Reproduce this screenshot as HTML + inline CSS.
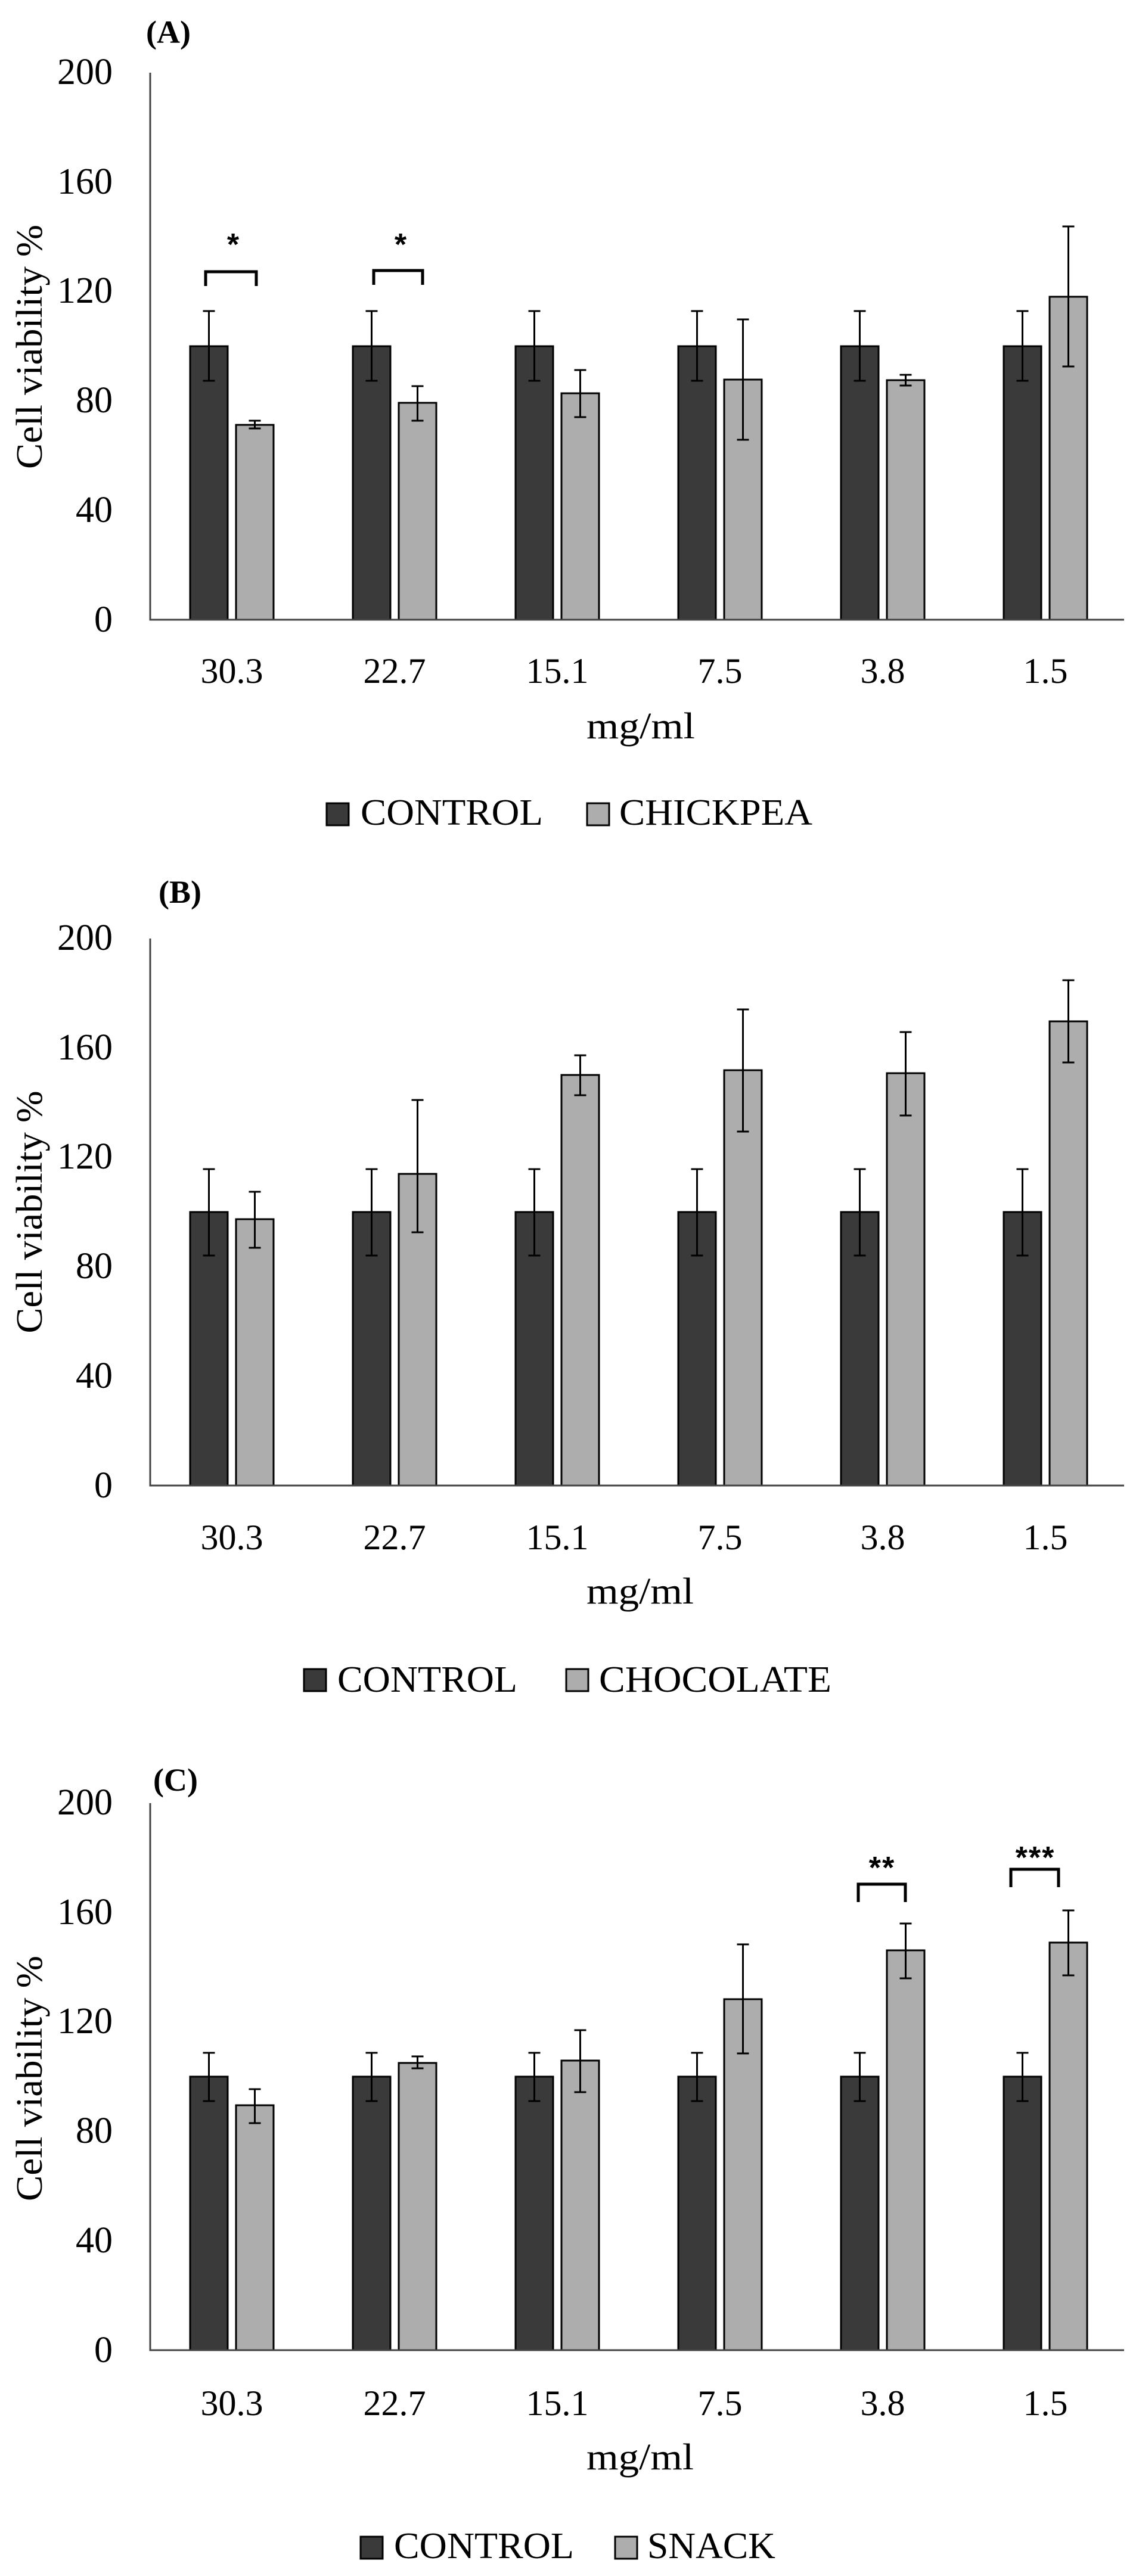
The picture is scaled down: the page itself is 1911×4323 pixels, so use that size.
<!DOCTYPE html>
<html><head><meta charset="utf-8"><style>
html,body{margin:0;padding:0;background:#fff}
svg{display:block}
text{font-family:"Liberation Serif",serif;fill:#000}
.t{font-size:62px}
.lab{font-size:60px;text-anchor:middle}
.yt{font-size:62px;text-anchor:end}
.c{fill:#3a3a3a;stroke:#000;stroke-width:3}
.g{fill:#adadad;stroke:#000;stroke-width:3}
.e{stroke:#000;stroke-width:3;fill:none}
.ax{stroke:#444;stroke-width:3;fill:none}
.br{stroke:#000;stroke-width:5;fill:none}
.st{font-family:"Liberation Sans",sans-serif;font-weight:bold;font-size:52px;text-anchor:middle}
.ti{font-weight:bold;font-size:54px}
</style></head><body>
<svg width="1911" height="4323" viewBox="0 0 1911 4323" xmlns="http://www.w3.org/2000/svg">
<rect width="1911" height="4323" fill="#fff"/>

<!-- ===== Chart A ===== -->
<text class="ti" x="245" y="72">(A)</text>
<g class="yt">
<text x="189" y="141">200</text><text x="189" y="325">160</text><text x="189" y="508">120</text>
<text x="189" y="692">80</text><text x="189" y="876">40</text><text x="189" y="1060">0</text>
</g>
<text class="t" transform="translate(70,582) rotate(-90)" text-anchor="middle" textLength="410" lengthAdjust="spacingAndGlyphs">Cell viability %</text>
<!-- bars A -->
<g>
<rect class="c" x="319" y="581" width="63" height="459"/><rect class="g" x="396" y="713" width="63" height="327"/>
<rect class="c" x="592" y="581" width="63" height="459"/><rect class="g" x="669" y="676" width="63" height="364"/>
<rect class="c" x="865" y="581" width="63" height="459"/><rect class="g" x="942" y="660" width="63" height="380"/>
<rect class="c" x="1138" y="581" width="63" height="459"/><rect class="g" x="1215" y="637" width="63" height="403"/>
<rect class="c" x="1411" y="581" width="63" height="459"/><rect class="g" x="1488" y="638" width="63" height="402"/>
<rect class="c" x="1684" y="581" width="63" height="459"/><rect class="g" x="1761" y="498" width="63" height="542"/>
</g>
<path class="e" d="M350.5 522V639M340.5 522h20M340.5 639h20
M427.5 706V719M417.5 706h20M417.5 719h20
M623.5 522V639M613.5 522h20M613.5 639h20
M700.5 648V706M690.5 648h20M690.5 706h20
M896.5 522V639M886.5 522h20M886.5 639h20
M973.5 621V700M963.5 621h20M963.5 700h20
M1169.5 522V639M1159.5 522h20M1159.5 639h20
M1246.5 536V738M1236.5 536h20M1236.5 738h20
M1442.5 522V639M1432.5 522h20M1432.5 639h20
M1519.5 629V647M1509.5 629h20M1509.5 647h20
M1715.5 522V639M1705.5 522h20M1705.5 639h20
M1792.5 380V615M1782.5 380h20M1782.5 615h20"/>
<path class="ax" d="M252 122V1040H1886"/>
<path class="br" d="M345 480V456H430V480M627 478V454H709V478"/>
<text class="st" x="391" y="428">*</text><text class="st" x="672" y="428">*</text>
<g class="lab">
<text x="389" y="1146">30.3</text><text x="662" y="1146">22.7</text><text x="935" y="1146">15.1</text>
<text x="1208" y="1146">7.5</text><text x="1481" y="1146">3.8</text><text x="1754" y="1146">1.5</text>
</g>
<text class="t" x="984" y="1239" textLength="182" lengthAdjust="spacingAndGlyphs">mg/ml</text>
<rect class="c" x="548" y="1348" width="37" height="37"/>
<text class="t" x="605" y="1384" textLength="306" lengthAdjust="spacingAndGlyphs">CONTROL</text>
<rect class="g" x="985" y="1348" width="37" height="37"/>
<text class="t" x="1039" y="1384" textLength="324" lengthAdjust="spacingAndGlyphs">CHICKPEA</text>

<!-- ===== Chart B ===== -->
<text class="ti" x="266" y="1515">(B)</text>
<g class="yt">
<text x="189" y="1594">200</text><text x="189" y="1778">160</text><text x="189" y="1961">120</text>
<text x="189" y="2145">80</text><text x="189" y="2329">40</text><text x="189" y="2513">0</text>
</g>
<text class="t" transform="translate(70,2034) rotate(-90)" text-anchor="middle" textLength="407" lengthAdjust="spacingAndGlyphs">Cell viability %</text>
<g>
<rect class="c" x="319" y="2034" width="63" height="459"/><rect class="g" x="396" y="2046" width="63" height="447"/>
<rect class="c" x="592" y="2034" width="63" height="459"/><rect class="g" x="669" y="1970" width="63" height="523"/>
<rect class="c" x="865" y="2034" width="63" height="459"/><rect class="g" x="942" y="1804" width="63" height="689"/>
<rect class="c" x="1138" y="2034" width="63" height="459"/><rect class="g" x="1215" y="1796" width="63" height="697"/>
<rect class="c" x="1411" y="2034" width="63" height="459"/><rect class="g" x="1488" y="1801" width="63" height="692"/>
<rect class="c" x="1684" y="2034" width="63" height="459"/><rect class="g" x="1761" y="1714" width="63" height="779"/>
</g>
<path class="e" d="M350.5 1962V2107M340.5 1962h20M340.5 2107h20
M427.5 2000V2094M417.5 2000h20M417.5 2094h20
M623.5 1962V2107M613.5 1962h20M613.5 2107h20
M700.5 1846V2068M690.5 1846h20M690.5 2068h20
M896.5 1962V2107M886.5 1962h20M886.5 2107h20
M973.5 1771V1838M963.5 1771h20M963.5 1838h20
M1169.5 1962V2107M1159.5 1962h20M1159.5 2107h20
M1246.5 1694V1899M1236.5 1694h20M1236.5 1899h20
M1442.5 1962V2107M1432.5 1962h20M1432.5 2107h20
M1519.5 1732V1872M1509.5 1732h20M1509.5 1872h20
M1715.5 1962V2107M1705.5 1962h20M1705.5 2107h20
M1792.5 1645V1783M1782.5 1645h20M1782.5 1783h20"/>
<path class="ax" d="M252 1575V2493H1886"/>
<g class="lab">
<text x="389" y="2600">30.3</text><text x="662" y="2600">22.7</text><text x="935" y="2600">15.1</text>
<text x="1208" y="2600">7.5</text><text x="1481" y="2600">3.8</text><text x="1754" y="2600">1.5</text>
</g>
<text class="t" x="984" y="2691" textLength="180" lengthAdjust="spacingAndGlyphs">mg/ml</text>
<rect class="c" x="510" y="2801" width="37" height="37"/>
<text class="t" x="566" y="2839" textLength="302" lengthAdjust="spacingAndGlyphs">CONTROL</text>
<rect class="g" x="950" y="2801" width="37" height="37"/>
<text class="t" x="1005" y="2839" textLength="390" lengthAdjust="spacingAndGlyphs">CHOCOLATE</text>

<!-- ===== Chart C ===== -->
<text class="ti" x="257" y="3005">(C)</text>
<g class="yt">
<text x="189" y="3045">200</text><text x="189" y="3229">160</text><text x="189" y="3412">120</text>
<text x="189" y="3596">80</text><text x="189" y="3780">40</text><text x="189" y="3964">0</text>
</g>
<text class="t" transform="translate(70,3488) rotate(-90)" text-anchor="middle" textLength="412" lengthAdjust="spacingAndGlyphs">Cell viability %</text>
<g>
<rect class="c" x="319" y="3485" width="63" height="459"/><rect class="g" x="396" y="3533" width="63" height="411"/>
<rect class="c" x="592" y="3485" width="63" height="459"/><rect class="g" x="669" y="3462" width="63" height="482"/>
<rect class="c" x="865" y="3485" width="63" height="459"/><rect class="g" x="942" y="3458" width="63" height="486"/>
<rect class="c" x="1138" y="3485" width="63" height="459"/><rect class="g" x="1215" y="3355" width="63" height="589"/>
<rect class="c" x="1411" y="3485" width="63" height="459"/><rect class="g" x="1488" y="3273" width="63" height="671"/>
<rect class="c" x="1684" y="3485" width="63" height="459"/><rect class="g" x="1761" y="3260" width="63" height="684"/>
</g>
<path class="e" d="M350.5 3445V3526M340.5 3445h20M340.5 3526h20
M427.5 3506V3563M417.5 3506h20M417.5 3563h20
M623.5 3445V3526M613.5 3445h20M613.5 3526h20
M700.5 3451V3471M690.5 3451h20M690.5 3471h20
M896.5 3445V3526M886.5 3445h20M886.5 3526h20
M973.5 3407V3511M963.5 3407h20M963.5 3511h20
M1169.5 3445V3526M1159.5 3445h20M1159.5 3526h20
M1246.5 3263V3446M1236.5 3263h20M1236.5 3446h20
M1442.5 3445V3526M1432.5 3445h20M1432.5 3526h20
M1519.5 3228V3320M1509.5 3228h20M1509.5 3320h20
M1715.5 3445V3526M1705.5 3445h20M1705.5 3526h20
M1792.5 3206V3315M1782.5 3206h20M1782.5 3315h20"/>
<path class="ax" d="M252 3026V3944H1886"/>
<path class="br" d="M1440 3192V3162H1519V3192M1696 3167V3137H1776V3167"/>
<text class="st" x="1480" y="3152" letter-spacing="2">**</text>
<text class="st" x="1737" y="3135" letter-spacing="2">***</text>
<g class="lab">
<text x="389" y="4053">30.3</text><text x="662" y="4053">22.7</text><text x="935" y="4053">15.1</text>
<text x="1208" y="4053">7.5</text><text x="1481" y="4053">3.8</text><text x="1754" y="4053">1.5</text>
</g>
<text class="t" x="984" y="4144" textLength="180" lengthAdjust="spacingAndGlyphs">mg/ml</text>
<rect class="c" x="605" y="4257" width="37" height="37"/>
<text class="t" x="661" y="4293" textLength="302" lengthAdjust="spacingAndGlyphs">CONTROL</text>
<rect class="g" x="1032" y="4257" width="37" height="37"/>
<text class="t" x="1086" y="4293" textLength="215" lengthAdjust="spacingAndGlyphs">SNACK</text>
</svg>
</body></html>
